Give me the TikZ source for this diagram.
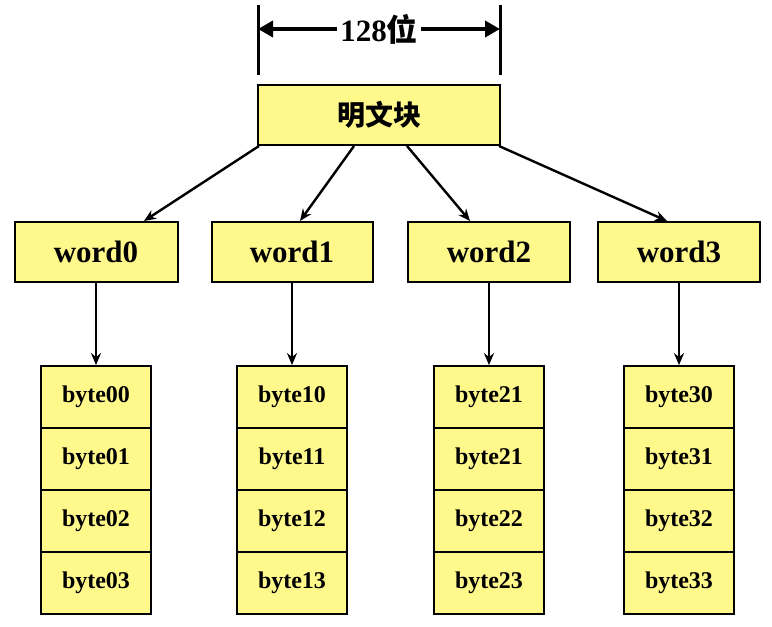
\documentclass[tikz,border=0pt]{standalone}
\usepackage{fontspec}
\setmainfont{Liberation Serif}
\newfontfamily\cjk{Noto Sans CJK SC}
\usetikzlibrary{arrows.meta}
\begin{document}
\begin{tikzpicture}[x=1pt,y=-1pt,
  box/.style={draw,line width=2pt,fill=yellow!45,inner sep=0pt,font=\bfseries\fontsize{31}{31}\selectfont},
  bb/.style={draw,line width=1.8pt,fill=yellow!45,minimum width=110pt,minimum height=62pt,inner sep=0pt},
  arr/.style={line width=2.4pt,-{Stealth[length=12pt,width=10pt]}}]
\useasboundingbox (0,0) rectangle (772,627);
\coordinate (L1) at (258,5); \coordinate (L2) at (258,75);
\coordinate (R1) at (500,5); \coordinate (R2) at (500,75);
\draw[line width=3pt] (L1)--(L2) (R1)--(R2);
\node[font=\bfseries\fontsize{31}{31}\selectfont] (t) at (379,29) {128{\cjk 位}};
\draw[line width=4pt,-{Triangle[length=15pt,width=16pt]}] (t.west)--(L1|-t);
\draw[line width=4pt,-{Triangle[length=15pt,width=16pt]}] (t.east)--(R1|-t);
\node[box,minimum width=242pt,minimum height=60pt,font=\cjk\bfseries\fontsize{28}{28}\selectfont] (m) at (379,115) {明文块};
\foreach \i/\x/\w in {0/96/163,1/292/161,2/489/162,3/679/162}{
  \node[box,minimum width=\w pt,minimum height=60pt] (w\i) at (\x,252) {word\i};
}
\foreach \i/\x in {0/96,1/292,2/489,3/679}{
  \foreach \j/\y in {0/397,1/459,2/521,3/583}{
    \node[bb] (b\i\j) at (\x,\y) {};
  }
  \draw[arr] (w\i.south) -- (b\i0.north);
}
\foreach \i/\j/\s in {0/0/00,0/1/01,0/2/02,0/3/03,1/0/10,1/1/11,1/2/12,1/3/13,2/0/21,2/1/21,2/2/22,2/3/23,3/0/30,3/1/31,3/2/32,3/3/33}{\node[font=\bfseries\fontsize{24}{24}\selectfont] at (b\i\j) {byte\s};}
\draw[arr] ([xshift=2pt]m.south west) -- ([xshift=48pt]w0.north);
\draw[arr] ([xshift=97pt]m.south west) -- ([xshift=8pt]w1.north);
\draw[arr] ([xshift=150pt]m.south west) -- ([xshift=-19pt]w2.north);
\draw[arr] ([xshift=-2pt]m.south east) -- ([xshift=-12pt]w3.north);
\end{tikzpicture}
\end{document}
